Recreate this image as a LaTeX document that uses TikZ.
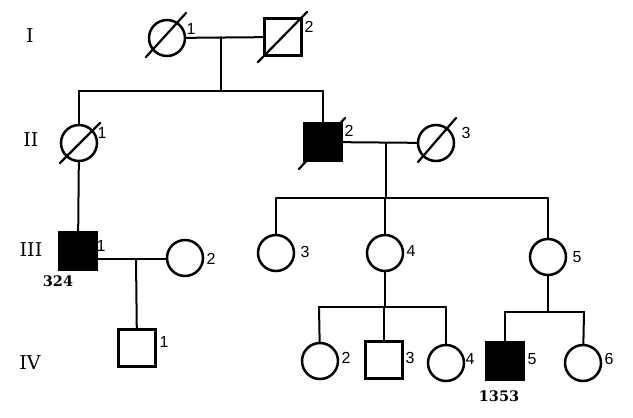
\documentclass[tikz,border=0pt]{standalone}
\usepackage{fontspec}
\setmainfont{Liberation Sans}
\newfontfamily\serifnum{DejaVu Serif}
\begin{document}
\begin{tikzpicture}[x=1pt,y=-1pt,
  line cap=round,
  fem/.style={circle,draw,line width=2.5pt,minimum size=36pt,inner sep=0pt},
  mal/.style={rectangle,draw,line width=2.4pt,minimum size=37pt,inner sep=0pt},
  aff/.style={fill=black},
  conn/.style={line width=2pt},
  slash/.style={line width=2.2pt},
  num/.style={font=\fontsize{16}{16}\selectfont,inner sep=0pt},
  gen/.style={font=\serifnum\fontsize{19}{19}\selectfont,inner sep=0pt},
  idn/.style={font=\serifnum\bfseries\fontsize{14.5}{14.5}\selectfont,inner sep=0pt}]
\useasboundingbox (0,0) rectangle (633,418);
\fill[white] (0,0) rectangle (633,418);
% generation labels
\node[gen] (gI) at (30,36) {I};
\node[gen] (gII) at (31,140) {II};
\node[gen] (gIII) at (31,250) {III};
\node[gen] (gIV) at (30,363) {IV};
% generation I
\node[fem] (i1) at (167,38) {};
\node[mal] (i2) at (283,37) {};
\coordinate (m1) at (221,37);
\coordinate (s1l) at (79,91);
\coordinate (s1r) at (323,91);
% generation II
\node[fem] (ii1) at (79,143) {};
\node[mal,aff] (ii2) at (323,142) {};
\node[fem] (ii3) at (436,143) {};
\coordinate (m2) at (386,143);
\coordinate (s2l) at (276,198);
\coordinate (s2r) at (548,198);
% generation III
\node[mal,aff] (iii1) at (78,251) {};
\node[fem] (iii2) at (185,258) {};
\coordinate (m3) at (136,259);
\node[fem] (iii3) at (276,253) {};
\node[fem] (iii4) at (385,253) {};
\node[fem] (iii5) at (548,257) {};
\coordinate (s3l) at (319,307);
\coordinate (s3r) at (446,307);
\coordinate (s4l) at (505,312);
\coordinate (s4r) at (584,312);
% generation IV
\node[mal] (iv1) at (137,348) {};
\node[fem] (iv2) at (320,361) {};
\node[mal] (iv3) at (384,360) {};
\node[fem] (iv4) at (446,363) {};
\node[mal,aff] (iv5) at (505,361) {};
\node[fem] (iv6) at (583,363) {};
% slashes (deceased)
\draw[slash] ([shift={(-21,19)}]i1.center) -- ([shift={(19,-25)}]i1.center);
\draw[slash] ([shift={(-25,25)}]i2.center) -- ([shift={(24,-25)}]i2.center);
\draw[slash] ([shift={(-19,20)}]ii1.center) -- ([shift={(21,-20)}]ii1.center);
\draw[slash] ([shift={(-24,27)}]ii2.center) -- ([shift={(22,-24)}]ii2.center);
\draw[slash] ([shift={(-18,19)}]ii3.center) -- ([shift={(20,-25)}]ii3.center);
% connectors generation I
\draw[conn] (i1) -- (i2);
\draw[conn] (m1) -- (m1 |- s1l);
\draw[conn] (s1l) -- (s1r);
\draw[conn] (ii1) -- (s1l);
\draw[conn] (ii2) -- (s1r);
% generation II
\draw[conn] (ii2) -- (ii3);
\draw[conn] (m2) -- (m2 |- s2l);
\draw[conn] (s2l) -- (s2r);
\draw[conn] (iii3) -- (s2l);
\draw[conn] (iii4) -- (iii4 |- s2l);
\draw[conn] (iii5) -- (s2r);
\draw[conn] (ii1) -- (iii1);
% generation III
\draw[conn] (iii1.east |- m3) -- (iii2.west |- m3);
\draw[conn] (m3) -- (iv1);
\draw[conn] (iii4) -- (iii4 |- s3l);
\draw[conn] (s3l) -- (s3r);
\draw[conn] (iv2) -- (s3l);
\draw[conn] (iv3) -- (iv3 |- s3l);
\draw[conn] (iv4) -- (s3r);
\draw[conn] (iii5) -- (iii5 |- s4l);
\draw[conn] (s4l) -- (s4r);
\draw[conn] (iv5) -- (s4l);
\draw[conn] (iv6) -- (s4r);
% numbers
\node[num] (li1) at (191,29) {1};
\node[num] (li2) at (309,27) {2};
\node[num] (lii1) at (102,133) {1};
\node[num] (lii2) at (349,131) {2};
\node[num] (lii3) at (466,133) {3};
\node[num] (liii1) at (101,246) {1};
\node[num] (liii2) at (211,259) {2};
\node[num] (liii3) at (305,252) {3};
\node[num] (liii4) at (411,251) {4};
\node[num] (liii5) at (577,257) {5};
\node[num] (liv1) at (164,342) {1};
\node[num] (liv2) at (346,358) {2};
\node[num] (liv3) at (410,358) {3};
\node[num] (liv4) at (470,359) {4};
\node[num] (liv5) at (532,359) {5};
\node[num] (liv6) at (609,359) {6};
\node[idn] (id324) at (58,281) {324};
\node[idn] (id1353) at (499,396) {1353};
\end{tikzpicture}
\end{document}
